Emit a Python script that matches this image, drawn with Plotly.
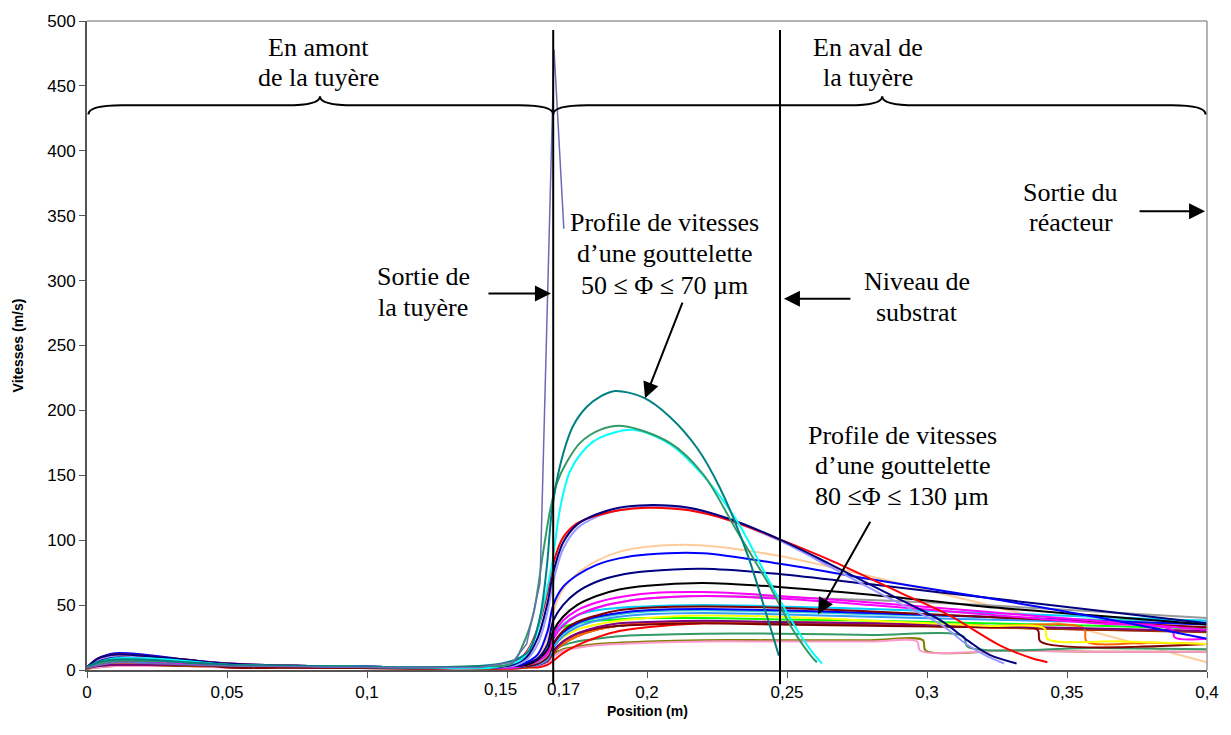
import plotly.graph_objects as go

# ---------------- data ----------------
X_PACK = [0, 0.004, 0.01, 0.02, 0.035, 0.05, 0.08, 0.12, 0.145, 0.152, 0.157, 0.161, 0.1645,
          0.1665, 0.17, 0.175, 0.182, 0.19, 0.2, 0.22, 0.247, 0.28, 0.32, 0.36, 0.4]

PEACH_Y = [2, 8, 11, 10, 7, 4, 3, 2, 2, 3, 5, 10, 25, 45, 62, 74, 84, 91, 95, 96, 88, 72, 51, 29, 6]
BLUE_Y = [2, 9, 13, 12, 8, 5, 3, 2, 2, 3, 6, 12, 30, 50, 64, 73, 81, 86, 89, 90, 82, 70, 56, 41, 24]
NAVY2_Y = [2, 7, 10, 9, 7, 4, 3, 2, 2, 3, 5, 9, 20, 38, 50, 60, 68, 73, 76, 78, 74, 66, 56, 46, 36]
BLACK_Y = [2, 6, 9, 9, 6, 4, 3, 2, 2, 3, 4, 8, 16, 30, 41, 50, 57, 62, 65, 67, 64, 58, 49, 42, 35]
GRAY_Y = [2, 5, 8, 8, 6, 4, 3, 2, 2, 2, 4, 6, 12, 24, 34, 42, 48, 52, 55, 57, 56, 54, 50, 45, 40]
MAGENTA_Y = [2, 6, 9, 9, 6, 4, 3, 2, 2, 2, 4, 7, 14, 27, 38, 46, 52, 56, 59, 60, 57, 52, 45, 38, 31]
DARKRED_Y = [2, 8, 10, 10, 6, 2, 2, 1, 2, 2, 3, 5, 10, 20, 30, 37, 42, 46, 48, 49, 48, 45, 41, 37, 33]
BLUE2_Y = [2, 5, 7, 7, 5, 4, 3, 2, 2, 2, 3, 5, 10, 20, 29, 36, 41, 44, 46, 47, 46, 44, 41, 38, 35]
TURQ_Y = [2, 6, 8, 8, 6, 4, 3, 2, 2, 2, 3, 5, 9, 19, 28, 35, 40, 43, 45, 46, 45, 43, 41, 39, 38]
DODGER_Y = [2, 4, 6, 6, 5, 4, 3, 2, 2, 2, 3, 4, 8, 17, 26, 33, 38, 41, 43, 44, 43, 41, 39, 37, 36]
PURPLE_Y = [2, 3, 4, 4, 4, 3, 2, 2, 2, 2, 3, 4, 7, 14, 22, 28, 33, 36, 37, 38, 37, 36, 34, 32, 30]
BROWN_Y = [1, 3, 4, 4, 3, 3, 2, 2, 1, 2, 2, 4, 7, 13, 20, 26, 31, 34, 36, 37, 36, 35, 33, 31, 29]
RED2_Y = [2, 5, 7, 7, 5, 3, 2, 2, 1, 1, 2, 2, 4, 7, 13, 19, 25, 30, 33, 36, 36, 35, 33, 31, 30]
LIME_Y = [2, 6, 9, 9, 6, 4, 3, 2, 2, 2, 3, 5, 12, 28, 33, 36, 38, 39, 40, 40, 39, 38, 36, 34, 32]
CYAN2_Y = [2, 7, 10, 10, 7, 4, 3, 2, 2, 2, 3, 6, 14, 26, 35, 42, 46, 48, 49, 50, 49, 47, 44, 41, 38]

OLIVE_X = [0, 0.004, 0.01, 0.02, 0.035, 0.05, 0.08, 0.12, 0.145, 0.152, 0.157, 0.161, 0.1645, 0.1665,
           0.17, 0.175, 0.182, 0.19, 0.2, 0.22, 0.247, 0.28, 0.2985, 0.2995, 0.33, 0.36, 0.4]
OLIVE_Y = [1, 2, 3, 3, 3, 3, 2, 2, 1, 1, 2, 3, 6, 12, 16, 18, 20, 21, 22, 23, 23, 23, 23, 15, 15, 14, 14]
PINK_X = [0, 0.004, 0.01, 0.02, 0.035, 0.05, 0.08, 0.12, 0.145, 0.152, 0.157, 0.161, 0.1645, 0.1665,
          0.17, 0.175, 0.182, 0.19, 0.2, 0.22, 0.247, 0.28, 0.2965, 0.2975, 0.33, 0.36, 0.4]
PINK_Y = [1, 2, 3, 3, 3, 2, 2, 1, 1, 1, 2, 3, 5, 10, 15, 17, 19, 20, 21, 22, 22, 22, 22, 15, 15, 14, 14]
GREEN2_X = [0, 0.004, 0.01, 0.02, 0.035, 0.05, 0.08, 0.12, 0.145, 0.152, 0.157, 0.161, 0.1645, 0.1665,
            0.17, 0.175, 0.182, 0.19, 0.2, 0.22, 0.247, 0.28, 0.313, 0.3145, 0.36, 0.4]
GREEN2_Y = [2, 4, 6, 6, 5, 4, 3, 2, 2, 2, 3, 5, 9, 15, 19, 22, 24, 26, 27, 28, 28, 27, 26, 18, 17, 16]
YELLOW_X = [0, 0.004, 0.01, 0.02, 0.035, 0.05, 0.08, 0.12, 0.145, 0.152, 0.157, 0.161, 0.1645, 0.1665,
            0.17, 0.175, 0.182, 0.19, 0.2, 0.22, 0.247, 0.28, 0.32, 0.342, 0.343, 0.37, 0.4]
YELLOW_Y = [2, 5, 7, 7, 5, 4, 3, 2, 2, 2, 3, 6, 11, 18, 25, 31, 35, 38, 40, 42, 41, 38, 34, 32, 24, 22, 20]
ORANGE_X = [0, 0.004, 0.01, 0.02, 0.035, 0.05, 0.08, 0.12, 0.145, 0.152, 0.157, 0.161, 0.1645, 0.1665,
            0.17, 0.175, 0.182, 0.19, 0.2, 0.22, 0.247, 0.28, 0.32, 0.356, 0.357, 0.38, 0.4]
ORANGE_Y = [2, 4, 5, 5, 5, 4, 3, 2, 2, 2, 3, 5, 8, 14, 20, 26, 31, 34, 36, 37, 37, 36, 34, 32, 22, 21, 20]
MAGENTA2_X = [0, 0.004, 0.01, 0.02, 0.035, 0.05, 0.08, 0.12, 0.145, 0.152, 0.157, 0.161, 0.1645, 0.1665,
              0.17, 0.175, 0.182, 0.19, 0.2, 0.22, 0.247, 0.28, 0.32, 0.36, 0.3875, 0.3885, 0.4]
MAGENTA2_Y = [2, 5, 7, 7, 5, 4, 3, 2, 2, 2, 4, 7, 13, 24, 34, 42, 48, 52, 55, 57, 55, 50, 43, 36, 31, 25, 24]
DARKRED2_X = [0, 0.004, 0.01, 0.02, 0.035, 0.05, 0.08, 0.12, 0.145, 0.152, 0.157, 0.161, 0.1645, 0.1665,
              0.17, 0.175, 0.182, 0.19, 0.2, 0.22, 0.247, 0.28, 0.32, 0.3395, 0.3405, 0.4]
DARKRED2_Y = [2, 6, 9, 9, 6, 3, 2, 2, 2, 2, 3, 5, 9, 15, 22, 28, 32, 34, 35, 36, 35, 34, 33, 31, 22, 20]

NAVY_X = [0, 0.004, 0.01, 0.02, 0.035, 0.05, 0.08, 0.12, 0.145, 0.152, 0.157, 0.161, 0.1645, 0.1665,
          0.17, 0.175, 0.182, 0.19, 0.2, 0.215, 0.23, 0.247, 0.265, 0.285, 0.305, 0.315, 0.322, 0.332]
NAVY_Y = [2, 9, 12, 11, 8, 5, 3, 2, 2, 4, 10, 25, 52, 75, 98, 112, 120, 125, 127, 125, 116, 101, 82, 60,
          38, 22, 12, 5]
PERI_X = [0, 0.004, 0.01, 0.02, 0.035, 0.05, 0.08, 0.12, 0.145, 0.152, 0.157, 0.161, 0.1645, 0.1665,
          0.17, 0.175, 0.182, 0.19, 0.2, 0.215, 0.23, 0.247, 0.265, 0.285, 0.305, 0.314, 0.321, 0.3275]
PERI_Y = [2, 8, 11, 10, 7, 5, 3, 2, 2, 3, 8, 20, 45, 68, 93, 109, 118, 123, 126, 124, 115, 100, 80, 57,
          35, 20, 11, 5]
RED_X = [0, 0.004, 0.01, 0.02, 0.035, 0.05, 0.08, 0.12, 0.145, 0.152, 0.157, 0.161, 0.1645, 0.1665,
         0.17, 0.175, 0.182, 0.19, 0.2, 0.215, 0.23, 0.247, 0.265, 0.29, 0.308, 0.326, 0.3375, 0.343]
RED_Y = [2, 9, 12, 11, 8, 5, 3, 2, 2, 5, 14, 32, 60, 82, 102, 113, 119, 123, 125, 123, 115, 101, 85, 60,
         42, 19, 9, 6]

TEAL_X = [0, 0.004, 0.01, 0.02, 0.035, 0.05, 0.08, 0.12, 0.14, 0.15, 0.155, 0.158, 0.1618, 0.1642, 0.166,
          0.169, 0.1736, 0.1786, 0.1836, 0.1886, 0.1986, 0.2082, 0.2179, 0.2261, 0.2357, 0.2429, 0.2471]
TEAL_Y = [2, 6, 8, 8, 6, 4, 3, 2, 3, 6, 10, 15, 41, 79, 122, 158, 188, 203, 211, 215, 210, 195, 171, 140,
          90, 41, 11]
SEAGREEN_X = [0, 0.004, 0.01, 0.02, 0.035, 0.05, 0.08, 0.12, 0.14, 0.1517, 0.1558, 0.1594, 0.163, 0.1654,
              0.1678, 0.1713, 0.1761, 0.1832, 0.1914, 0.2082, 0.22, 0.2321, 0.244, 0.2521, 0.2593, 0.2607]
SEAGREEN_Y = [2, 5, 7, 7, 6, 4, 3, 2, 3, 5, 20, 43, 92, 123, 144, 160, 175, 185, 188, 175, 151, 107, 64,
              31, 9, 6]
CYAN_X = [0, 0.004, 0.01, 0.02, 0.035, 0.05, 0.08, 0.12, 0.145, 0.155, 0.16, 0.163, 0.1661, 0.169, 0.1725,
          0.1786, 0.1832, 0.195, 0.2082, 0.22, 0.2321, 0.244, 0.2536, 0.2593, 0.2625]
CYAN_Y = [2, 6, 9, 9, 7, 4, 3, 2, 2, 8, 25, 50, 82, 125, 153, 172, 179, 185, 174, 150, 115, 67, 31, 13, 5]

GAS_X = [0, 0.01, 0.05, 0.1, 0.14, 0.152, 0.157, 0.1618, 0.1668, 0.1703]
GAS_Y = [2, 6, 3, 2, 2, 6, 20, 67, 478, 340]

X_TICKS = [0, 0.05, 0.1, 0.15, 0.2, 0.25, 0.3, 0.35, 0.4]
X_TICKTEXT = ["0", "0,05", "0,1", "", "0,2", "0,25", "0,3", "0,35", "0,4"]
Y_TICKS = [0, 50, 100, 150, 200, 250, 300, 350, 400, 450, 500]

NOZZLE_EXIT = 0.1665
SUBSTRATE = 0.2475

SERIES = [
    ("peach", X_PACK, PEACH_Y, "#ffcc99"),
    ("olive", OLIVE_X, OLIVE_Y, "#808000"),
    ("pink", PINK_X, PINK_Y, "#ff99cc"),
    ("green2", GREEN2_X, GREEN2_Y, "#339966"),
    ("lime", X_PACK, LIME_Y, "#00ff00"),
    ("red2", X_PACK, RED2_Y, "#ff0000"),
    ("brown", X_PACK, BROWN_Y, "#993300"),
    ("orange", ORANGE_X, ORANGE_Y, "#ff6600"),
    ("darkred2", DARKRED2_X, DARKRED2_Y, "#800000"),
    ("purple", X_PACK, PURPLE_Y, "#800080"),
    ("yellow", YELLOW_X, YELLOW_Y, "#ffff00"),
    ("dodger", X_PACK, DODGER_Y, "#3399ff"),
    ("turq", X_PACK, TURQ_Y, "#33cccc"),
    ("cyan2", X_PACK, CYAN2_Y, "#00ccff"),
    ("blue2", X_PACK, BLUE2_Y, "#0000ff"),
    ("darkred", X_PACK, DARKRED_Y, "#800000"),
    ("gray", X_PACK, GRAY_Y, "#999999"),
    ("magenta2", MAGENTA2_X, MAGENTA2_Y, "#ff00ff"),
    ("magenta", X_PACK, MAGENTA_Y, "#ff00ff"),
    ("black", X_PACK, BLACK_Y, "#000000"),
    ("navy2", X_PACK, NAVY2_Y, "#000080"),
    ("blue", X_PACK, BLUE_Y, "#0000ff"),
    ("peri", PERI_X, PERI_Y, "#9999ff"),
    ("red", RED_X, RED_Y, "#ff0000"),
    ("navy", NAVY_X, NAVY_Y, "#000080"),
    ("cyan", CYAN_X, CYAN_Y, "#00ffff"),
    ("seagreen", SEAGREEN_X, SEAGREEN_Y, "#339966"),
    ("teal", TEAL_X, TEAL_Y, "#008080"),
]

# ---------------- figure ----------------
fig = go.Figure()
for name, xs, ys, col in SERIES:
    fig.add_trace(go.Scatter(x=xs, y=ys, mode="lines", name=name,
                             line=dict(color=col, width=2, shape="spline", smoothing=0.9),
                             hoverinfo="skip", showlegend=False))
fig.add_trace(go.Scatter(x=GAS_X, y=GAS_Y, mode="lines", name="gaz",
                         line=dict(color="#6b6bb5", width=1.5), hoverinfo="skip", showlegend=False))

SERIF = "Liberation Serif, Times New Roman, serif"
SANS = "Liberation Sans, Arial, sans-serif"

shapes = []
for xv in (NOZZLE_EXIT, SUBSTRATE):
    shapes.append(dict(type="line", xref="x", yref="paper", x0=xv, x1=xv, y0=-0.022, y1=0.986,
                       line=dict(color="black", width=2)))
shapes.append(dict(type="line", xref="paper", yref="paper", x0=0, x1=1, y0=1, y1=1,
                   line=dict(color="#9a9a9a", width=1.5)))
shapes.append(dict(type="line", xref="paper", yref="paper", x0=1, x1=1, y0=0, y1=1,
                   line=dict(color="#9a9a9a", width=1.5)))


def brace(x0, x1, xm, ye=428, yl=435, yt=442, d=0.012):
    return (f"M {x0},{ye} Q {x0},{yl} {x0 + d},{yl} L {xm - d},{yl} Q {xm},{yl} {xm},{yt} "
            f"Q {xm},{yl} {xm + d},{yl} L {x1 - d},{yl} Q {x1},{yl} {x1},{ye}")


shapes.append(dict(type="path", xref="x", yref="y", path=brace(0.0005, NOZZLE_EXIT, 0.0832),
                   line=dict(color="black", width=2)))
shapes.append(dict(type="path", xref="x", yref="y", path=brace(NOZZLE_EXIT, 0.3995, 0.284),
                   line=dict(color="black", width=2)))

annotations = []


def text(x, y, s):
    annotations.append(dict(x=x, y=y, xref="x", yref="y", text=s, showarrow=False,
                            font=dict(family=SERIF, size=26, color="black"),
                            xanchor="center", yanchor="middle"))


def arrow(x, y, ax, ay):
    annotations.append(dict(x=x, y=y, xref="x", yref="y", text="", showarrow=True,
                            ax=ax, ay=ay, arrowhead=2, arrowsize=1.6, arrowwidth=2,
                            arrowcolor="black", standoff=0))


text(0.0825, 479.3, "En amont")
text(0.0825, 456.3, "de la tuyère")
text(0.2789, 479.3, "En aval de")
text(0.2789, 456.3, "la tuyère")
text(0.120, 302.9, "Sortie de")
text(0.120, 279.1, "la tuyère")
text(0.2064, 345.1, "Profile de vitesses")
text(0.2064, 320.6, "d’une gouttelette")
text(0.2064, 296.0, "50 ≤ Φ ≤ 70 µm")
text(0.2964, 299.1, "Niveau de")
text(0.2964, 275.3, "substrat")
text(0.3514, 368.1, "Sortie du")
text(0.3514, 345.1, "réacteur")
text(0.2911, 181.0, "Profile de vitesses")
text(0.2911, 157.2, "d’une gouttelette")
text(0.2911, 133.4, "80 ≤Φ ≤ 130 µm")

arrow(0.1657, 290, -64, 0)
arrow(0.1993, 209.4, 38, -97)
arrow(0.2489, 286, 68, 0)
arrow(0.3993, 353.5, -67, 0)
arrow(0.2611, 43, 53, -94)

TICK_SIZE = 17
for xv, s in ((0.1475, "0,15"), (0.170, "0,17")):
    annotations.append(dict(x=xv, y=0, xref="x", yref="paper", text=s, showarrow=False,
                            font=dict(family=SANS, size=TICK_SIZE, color="black"),
                            xanchor="center", yanchor="top", yshift=-8))

# x-axis title placed just below the tick labels
annotations.append(dict(x=0.5, y=0, xref="paper", yref="paper", text="<b>Position (m)</b>",
                        showarrow=False, font=dict(family=SANS, size=14, color="black"),
                        xanchor="center", yanchor="middle", yshift=-41))

fig.update_layout(
    width=1231, height=735,
    margin=dict(l=87, r=24, t=18, b=65),
    paper_bgcolor="white", plot_bgcolor="white",
    shapes=shapes, annotations=annotations,
    xaxis=dict(range=[0, 0.4], tickvals=X_TICKS, ticktext=X_TICKTEXT, ticks="outside", ticklen=6,
               tickcolor="#555555", showline=True, linecolor="#555555", linewidth=2,
               showgrid=False, zeroline=False,
               tickfont=dict(family=SANS, size=TICK_SIZE, color="black")),
    yaxis=dict(range=[0, 500], tickvals=Y_TICKS, ticks="outside", ticklen=6, tickcolor="#555555",
               showline=True, linecolor="#555555", linewidth=2, showgrid=False, zeroline=False,
               tickfont=dict(family=SANS, size=TICK_SIZE, color="black"),
               title=dict(text="<b>Vitesses (m/s)</b>", font=dict(family=SANS, size=14, color="black"),
                          standoff=20)),
)

fig.write_html("out.html", config={"displayModeBar": False},
               post_script="document.body.style.margin='0';")
